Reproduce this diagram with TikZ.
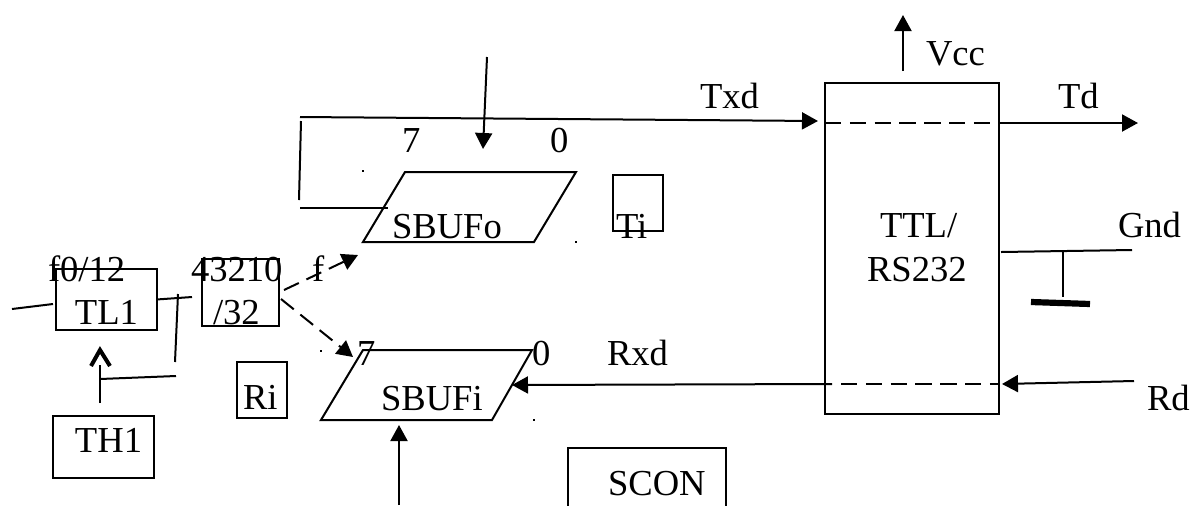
\documentclass[tikz,border=0pt]{standalone}
\usepackage{fontspec}
\setmainfont{Liberation Serif}
\usetikzlibrary{arrows.meta}
\tikzset{
  every node/.style={inner sep=0pt,outer sep=0pt},
  ln/.style={line width=1pt,line cap=butt},
  boxn/.style={draw,line width=1pt,minimum width=#1},
  lbl/.style={anchor=base west,font=\fontsize{18.3}{20}\selectfont},
  arr/.style={ln,-{Triangle[length=8pt,width=8.5pt]}},
  dsh/.style={ln,dash pattern=on 8.2pt off 4.2pt},
  dotm/.style={fill,minimum size=1.4pt}
}
\begin{document}
\begin{tikzpicture}[x=0.5pt,y=-0.5pt]
\useasboundingbox (0,0) rectangle (1190,505);
\clip (0,0) rectangle (1190,505);
% boxes
\node[boxn=50.5pt,minimum height=30.5pt] (tl) at (106,299.5) {};
\node[boxn=38.5pt,minimum height=33.5pt] (div) at (240.5,292.5) {};
\node[boxn=50.5pt,minimum height=31pt] (th) at (103.5,447) {};
\node[boxn=25pt,minimum height=28pt] (ri) at (262,390) {};
\node[boxn=25pt,minimum height=28pt] (ti) at (638,203) {};
\node[boxn=79pt,minimum height=50pt] (scon) at (647,498) {};
\node[boxn=87pt,minimum height=165.5pt] (ttl) at (912,248.5) {};
% parallelograms
\coordinate (oa) at (405,172); \coordinate (ob) at (576,172);
\coordinate (oc) at (534,242); \coordinate (od) at (363,242);
\draw[ln,line join=miter] (oa) -- (ob) -- (oc) -- (od) -- cycle;
\coordinate (ia) at (363,350); \coordinate (ib) at (532,350);
\coordinate (ic) at (492,420); \coordinate (id) at (321,420);
\draw[ln,line join=miter] (ia) -- (ib) -- (ic) -- (id) -- cycle;
% texts
\node[lbl] (t1) at (48,281) {f0/12};
\node[lbl] (t2) at (191,281) {43210};
\node[lbl] (t3) at (312,281) {f};
\node[lbl] (t4) at (75,324) {TL1};
\node[lbl] (t5) at (213,324) {/32};
\node[lbl] (t6) at (75,452) {TH1};
\node[lbl] (t7) at (243,409) {Ri};
\node[lbl] (t8) at (402,152) {7};
\node[lbl] (t9) at (550,152) {0};
\node[lbl] (t10) at (392,238) {SBUFo};
\node[lbl] (t11) at (616,238) {Ti};
\node[lbl] (t12) at (357,365) {7};
\node[lbl] (t13) at (532,365) {0};
\node[lbl] (t14) at (607,365) {Rxd};
\node[lbl] (t15) at (381,410) {SBUFi};
\node[lbl] (t16) at (608,495) {SCON};
\node[lbl] (t17) at (700,108) {Txd};
\node[lbl] (t18) at (926,65) {Vcc};
\node[lbl] (t19) at (1058,108) {Td};
\node[lbl] (t20) at (880,237) {TTL/};
\node[lbl] (t21) at (867,281) {RS232};
\node[lbl] (t22) at (1118,237) {Gnd};
\node[lbl] (t23) at (1147,410) {Rd};
% dots
\node[dotm] (d1) at (363,171) {};
\node[dotm] (d2) at (576,242) {};
\node[dotm] (d3) at (321,351) {};
\node[dotm] (d4) at (534,420) {};
% connector end points
\coordinate (a1) at (12,309); \coordinate (a2) at (53,304);
\coordinate (a3) at (192,297);
\coordinate (a4) at (178,294); \coordinate (a5) at (175,362);
\coordinate (a6) at (100,379); \coordinate (a7) at (176,376);
\coordinate (a8) at (100,403); \coordinate (a9) at (100,365);
\coordinate (w1) at (91,366); \coordinate (w2) at (100,350); \coordinate (w3) at (110,366);
\coordinate (b1) at (284,290); \coordinate (b2) at (358,255);
\coordinate (b3) at (281,299); \coordinate (b4) at (353,357);
\coordinate (c1) at (300,117); \coordinate (c2) at (818,121);
\coordinate (c3) at (301,121); \coordinate (c4) at (299,200);
\coordinate (c5) at (300,208); \coordinate (c6) at (388,208);
\coordinate (c7) at (487,57); \coordinate (c8) at (483,149);
\coordinate (e1) at (399,505); \coordinate (e2) at (399,425);
\coordinate (f1) at (832,384); \coordinate (f2) at (512,385);
\coordinate (g1) at (825,123); \coordinate (g2) at (999,123);
\coordinate (g3) at (841,384); \coordinate (g4) at (999,384);
\coordinate (h1) at (1138,123);
\coordinate (v1) at (903,71); \coordinate (v2) at (903,15);
\coordinate (n1) at (1001,252); \coordinate (n2) at (1132,250);
\coordinate (n3) at (1063,252); \coordinate (n4) at (1063,297);
\coordinate (n5) at (1031,302); \coordinate (n6) at (1090,304);
\coordinate (r1) at (1134,381); \coordinate (r2) at (1002,384);
% connectors
\draw[ln] (a1) -- (a2);
\draw[ln] (tl.east) -- (a3);
\draw[ln] (a4) -- (a5);
\draw[ln] (a6) -- (a7);
\draw[ln] (a8) -- (a9);
\draw[line width=2pt,line join=miter] (w1) -- (w2) -- (w3);
\draw[dsh,-{Triangle[length=8pt,width=8.5pt]}] (b1) -- (b2);
\draw[dsh,-{Triangle[length=8pt,width=8.5pt]}] (b3) -- (b4);
\draw[arr] (c1) -- (c2);
\draw[ln] (c3) -- (c4);
\draw[ln] (c5) -- (c6);
\draw[arr] (c7) -- (c8);
\draw[arr] (e1) -- (e2);
\draw[arr] (f1) -- (f2);
\draw[dsh] (g1) -- (g2);
\draw[dsh] (g3) -- (g4);
\draw[arr] (g2) -- (h1);
\draw[arr] (v1) -- (v2);
\draw[ln] (n1) -- (n2);
\draw[ln] (n3) -- (n4);
\draw[line width=3.1pt] (n5) -- (n6);
\draw[arr] (r1) -- (r2);
\end{tikzpicture}
\end{document}
